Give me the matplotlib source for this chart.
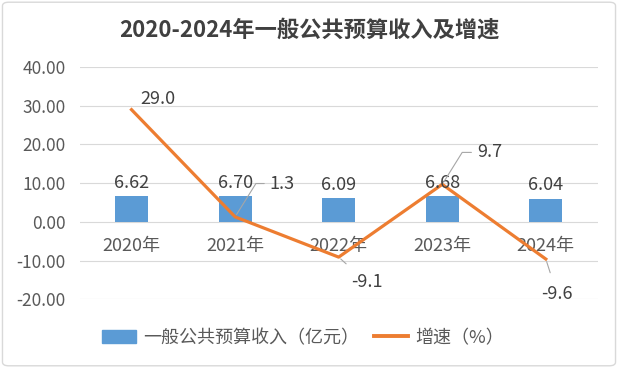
import numpy as np
import matplotlib.pyplot as plt
from matplotlib.patches import FancyBboxPatch, Patch
from matplotlib.lines import Line2D

plt.rcParams['font.family'] = ['Noto Sans CJK SC', 'DejaVu Sans']

years = ['2020年', '2021年', '2022年', '2023年', '2024年']
revenue = [6.62, 6.70, 6.09, 6.68, 6.04]
growth = [29.0, 1.3, -9.1, 9.7, -9.6]
yticks = [-20, -10, 0, 10, 20, 30, 40]

bar_color = '#5B9BD5'
line_color = '#ED7D31'
text_color = '#595959'
label_color = '#404040'

fig = plt.figure(figsize=(6.18, 3.68), dpi=100)
ax = fig.add_axes([0.129, 0.1867, 0.838, 0.631])

x = np.arange(len(years))
ax.bar(x, revenue, width=0.32, color=bar_color, zorder=2)
ax.plot(x, growth, color=line_color, lw=2.3, zorder=3)

# bar value labels
for i, v in enumerate(revenue):
    ax.annotate('%.2f' % v, (x[i], v), xytext=(0, 3), textcoords='offset points',
                ha='center', va='bottom', fontsize=13, color=label_color, zorder=4)

# growth labels, offsets in points, leader lines like excel
offs = [(19, 8), (25, 24), (20, -18), (25, 23), (8, -25)]
for i, g in enumerate(growth):
    dx, dy = offs[i]
    if i == 0:
        ax.annotate('%.1f' % g, (x[i], g), xytext=(dx, dy), textcoords='offset points',
                    ha='center', va='center', fontsize=13, color=label_color, zorder=4)
    elif i in (1, 3):
        ax.annotate('%.1f' % g, (x[i], g), xytext=(dx, dy), textcoords='offset points',
                    ha='left', va='center', fontsize=13, color=label_color, zorder=4,
                    arrowprops=dict(arrowstyle='-', color='#A6A6A6', lw=0.8,
                                    connectionstyle='angle,angleA=0,angleB=58,rad=0',
                                    shrinkA=2, shrinkB=2))
    else:
        ax.annotate('%.1f' % g, (x[i], g), xytext=(dx, dy), textcoords='offset points',
                    ha='center', va='center', fontsize=13, color=label_color, zorder=4,
                    arrowprops=dict(arrowstyle='-', color='#A6A6A6', lw=0.8,
                                    shrinkA=7, shrinkB=2))

ax.set_xlim(-0.5, len(years) - 0.5)
ax.set_ylim(-20, 40)
ax.set_yticks(yticks)
ax.set_yticklabels(['%.2f' % t for t in yticks])
ax.grid(axis='y', color='#D9D9D9', lw=0.8, zorder=0)
ax.set_axisbelow(True)

ax.set_xticks(x)
ax.set_xticklabels(years)
ax.spines['bottom'].set_position(('data', 0))
for s in ax.spines.values():
    s.set_visible(False)
ax.tick_params(axis='x', length=0, pad=11, labelsize=13, colors=text_color)
ax.tick_params(axis='y', length=0, pad=10, labelsize=12.5, colors=text_color)

fig.text(0.5, 0.918, '2020-2024年一般公共预算收入及增速', ha='center', va='center',
         fontsize=16, fontweight='bold', color=label_color)

handles = [Patch(color=bar_color), Line2D([], [], color=line_color, lw=2.8)]
fig.legend(handles, ['一般公共预算收入（亿元）', '增速（%）'], loc='center',
           bbox_to_anchor=(0.49, 0.082), ncol=2, frameon=False,
           fontsize=13, handlelength=1.9, handleheight=0.75, handletextpad=0.4,
           columnspacing=0.8, labelcolor=text_color)

border = FancyBboxPatch((0.004, 0.006), 0.992, 0.988, boxstyle='round,pad=0,rounding_size=0.01',
                        transform=fig.transFigure, fill=False, edgecolor='#D9D9D9', lw=1)
fig.patches.append(border)

fig.savefig('out.png', dpi=100)
